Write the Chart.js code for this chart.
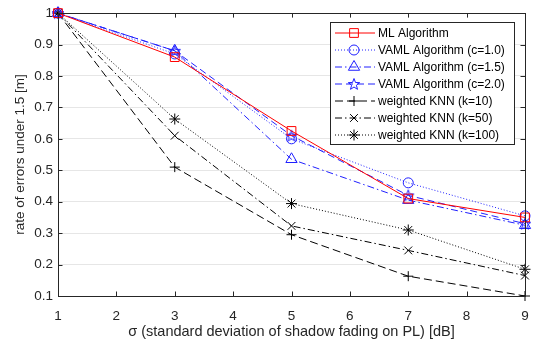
<!DOCTYPE html>
<html>
<head>
<meta charset="utf-8">
<script src="https://cdn.jsdelivr.net/npm/chart.js@4"></script>
<style>
  html, body { margin: 0; padding: 0; background: #fff; }
  #wrap { width: 539px; height: 344px; }
</style>
</head>
<body>
<div id="wrap"><canvas id="errChart" width="539" height="344"></canvas></div>
<script>
const sigma = [1, 3, 5, 7, 9];
const mlAlg = [1.0, 0.86, 0.625, 0.41, 0.35];
const vaml10 = [1.0, 0.87, 0.60, 0.46, 0.355];
const vaml15 = [1.0, 0.88, 0.535, 0.405, 0.325];
const vaml20 = [1.0, 0.88, 0.61, 0.42, 0.33];
const knn10 = [1.0, 0.51, 0.295, 0.163, 0.10];
const knn50 = [1.0, 0.61, 0.323, 0.245, 0.165];
const knn100 = [1.0, 0.663, 0.394, 0.31, 0.185];

const xTicks = [1, 2, 3, 4, 5, 6, 7, 8, 9];
const yTicks = [0.1, 0.2, 0.3, 0.4, 0.5, 0.6, 0.7, 0.8, 0.9, 1];

const FONT = "'Liberation Sans', Arial, Helvetica, sans-serif";
const AXIS = "#262626";
const BLUE = "#2020ff";

// pentagram marker (MATLAB 'p')
function makePentagram(color) {
  const c = document.createElement("canvas");
  c.width = 14; c.height = 14;
  const g = c.getContext("2d");
  g.strokeStyle = color;
  g.lineWidth = 1;
  g.beginPath();
  for (let i = 0; i < 10; i++) {
    const r = i % 2 === 0 ? 6 : 2.5;
    const a = -Math.PI / 2 + i * Math.PI / 5;
    const px = 7 + r * Math.cos(a), py = 7.5 + r * Math.sin(a);
    if (i === 0) g.moveTo(px, py); else g.lineTo(px, py);
  }
  g.closePath();
  g.stroke();
  return c;
}
const pentagram = makePentagram(BLUE);

function series(label, values, color, dash, style, radius) {
  return {
    label,
    data: values.map((v, i) => ({ x: sigma[i], y: v })),
    borderColor: color,
    borderWidth: 1,
    borderDash: dash,
    pointStyle: style,
    pointRadius: radius,
    pointBorderColor: color,
    pointBackgroundColor: "rgba(0,0,0,0)",
    pointBorderWidth: 1,
    tension: 0,
    fill: false
  };
}

const datasets = [
  series("ML Algorithm", mlAlg, "#ff0000", [], "rect", 6.2),
  series("VAML Algorithm (c=1.0)", vaml10, BLUE, [1, 2], "circle", 5),
  series("VAML Algorithm (c=1.5)", vaml15, BLUE, [7, 3, 1.5, 3], "triangle", 6.5),
  series("VAML Algorithm (c=2.0)", vaml20, BLUE, [7, 4], pentagram, 6),
  series("weighted KNN (k=10)", knn10, "#000000", [8, 4], "cross", 5),
  series("weighted KNN (k=50)", knn50, "#000000", [7, 3, 1.5, 3], "crossRot", 5.5),
  series("weighted KNN (k=100)", knn100, "#000000", [1, 2], "star", 5.5)
];

// box + inward ticks on all four sides
const framePlugin = {
  id: "frame",
  afterDatasetsDraw(chart) {
    const { ctx, chartArea: a, scales } = chart;
    ctx.save();
    ctx.strokeStyle = AXIS;
    ctx.lineWidth = 1;
    ctx.setLineDash([]);
    ctx.strokeRect(Math.round(a.left) + 0.5, Math.round(a.top) + 0.5,
      Math.round(a.right - a.left), Math.round(a.bottom - a.top));
    const tl = 4.5;
    ctx.beginPath();
    xTicks.forEach(v => {
      const x = Math.round(scales.x.getPixelForValue(v)) + 0.5;
      ctx.moveTo(x, a.bottom); ctx.lineTo(x, a.bottom - tl);
      ctx.moveTo(x, a.top); ctx.lineTo(x, a.top + tl);
    });
    yTicks.forEach(v => {
      const y = Math.round(scales.y.getPixelForValue(v)) + 0.5;
      ctx.moveTo(a.left, y); ctx.lineTo(a.left + tl, y);
      ctx.moveTo(a.right, y); ctx.lineTo(a.right - tl, y);
    });
    ctx.stroke();
    ctx.restore();
  }
};

// MATLAB-like legend box with line sample + marker
const legendPlugin = {
  id: "boxLegend",
  afterDraw(chart) {
    const { ctx } = chart;
    const bx = 330, by = 22, bw = 184, bh = 122;
    ctx.save();
    ctx.fillStyle = "#fff";
    ctx.fillRect(bx, by, bw, bh);
    ctx.strokeStyle = AXIS;
    ctx.lineWidth = 1;
    ctx.strokeRect(bx + 0.5, by + 0.5, bw, bh);
    ctx.font = "12px " + FONT;
    ctx.textBaseline = "middle";
    chart.data.datasets.forEach((ds, i) => {
      const y = 33 + i * 17.0;
      ctx.strokeStyle = ds.borderColor;
      ctx.lineWidth = 1;
      ctx.setLineDash(ds.borderDash);
      ctx.beginPath();
      ctx.moveTo(335, y); ctx.lineTo(375, y);
      ctx.stroke();
      ctx.setLineDash([]);
      ctx.fillStyle = "rgba(0,0,0,0)";
      Chart.helpers.drawPoint(ctx, {
        pointStyle: ds.pointStyle,
        radius: ds.pointRadius,
        borderWidth: 1,
        rotation: 0
      }, 354, y);
      ctx.fillStyle = "#000";
      ctx.fillText(ds.label, 378, y + 0.5);
    });
    ctx.restore();
  }
};

new Chart(document.getElementById("errChart"), {
  type: "line",
  data: { datasets },
  plugins: [framePlugin, legendPlugin],
  options: {
    responsive: false,
    animation: false,
    clip: false,
    layout: { padding: { left: 0, top: 11, right: 14, bottom: 0 } },
    plugins: { legend: { display: false }, tooltip: { enabled: false } },
    scales: {
      x: {
        type: "linear",
        min: 1,
        max: 9,
        afterBuildTicks: s => { s.ticks = xTicks.map(v => ({ value: v })); },
        afterFit: s => { s.height = 48; },
        grid: { display: false },
        border: { display: false },
        ticks: { color: AXIS, font: { family: FONT, size: 13.5 }, padding: 4, maxRotation: 0 },
        title: {
          display: true,
          text: "σ (standard deviation of shadow fading on PL) [dB]",
          color: AXIS,
          font: { family: FONT, size: 14.5 },
          padding: { top: 0, bottom: 3 }
        }
      },
      y: {
        min: 0.1,
        max: 1,
        afterBuildTicks: s => { s.ticks = yTicks.map(v => ({ value: v })); },
        afterFit: s => { s.width = 58; },
        grid: { color: "#e6e6e6", drawTicks: false },
        border: { display: false },
        ticks: {
          color: AXIS,
          font: { family: FONT, size: 13.5 },
          padding: 5,
          callback: v => String(Math.round(v * 10) / 10)
        },
        title: {
          display: true,
          text: "rate of errors under 1.5 [m]",
          color: AXIS,
          font: { family: FONT, size: 13.5 },
          padding: { top: 12, bottom: 0 }
        }
      }
    }
  }
});
</script>
</body>
</html>
